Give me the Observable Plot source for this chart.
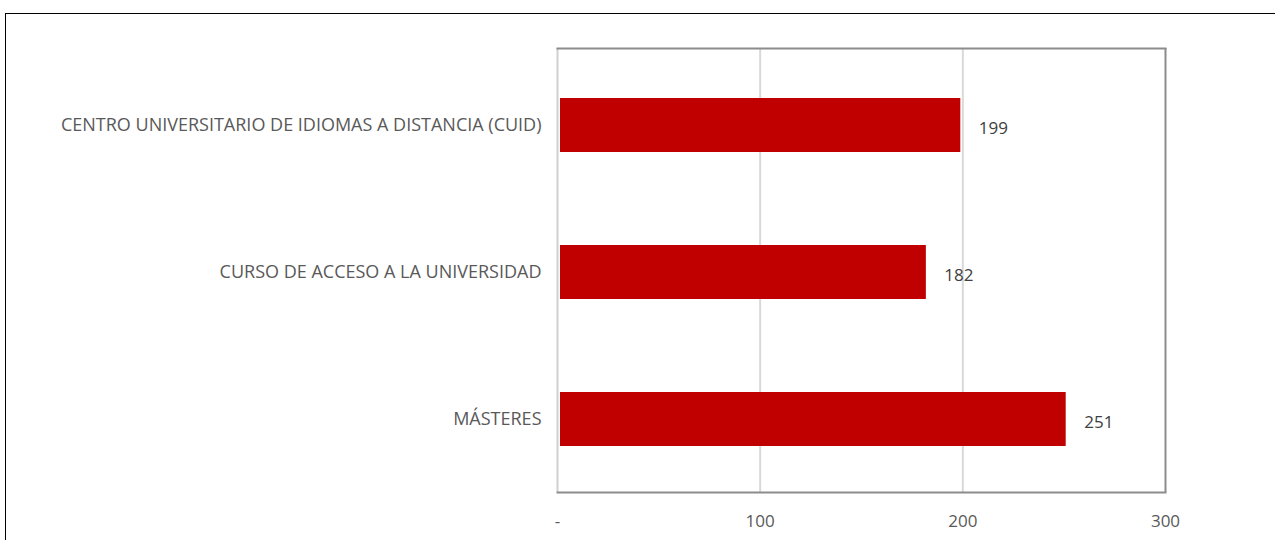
<!DOCTYPE html>
<html>
<head>
<meta charset="utf-8">
<script src="https://cdn.jsdelivr.net/npm/d3@7"></script>
<script src="https://cdn.jsdelivr.net/npm/@observablehq/plot@0.6"></script>
<style>
  html, body { margin: 0; padding: 0; background: #fff; overflow: hidden; }
  #wrap { position: relative; width: 1275px; height: 540px; }
  #border { position: absolute; left: 5px; top: 13px; width: 1400px; height: 700px; border: 1px solid #000; pointer-events: none; }
</style>
</head>
<body>
<div id="wrap"><div id="border"></div></div>
<script>
const categories = [
  "CENTRO UNIVERSITARIO DE IDIOMAS A DISTANCIA (CUID)",
  "CURSO DE ACCESO A LA UNIVERSIDAD",
  "MÁSTERES"
];
const values = [199, 182, 251];
const xTicks = [0, 100, 200, 300];
const xTickLabels = ["-", "100", "200", "300"];

const data = categories.map((c, i) => ({category: c, value: values[i]}));
const font = "Open Sans, Noto Sans, sans-serif";

const chart = Plot.plot({
  width: 1275,
  height: 540,
  marginLeft: 557,
  marginRight: 110,
  marginTop: 48,
  marginBottom: 48,
  style: {fontFamily: font, background: "transparent", overflow: "visible"},
  x: {domain: [0, 300], ticks: xTicks, label: null},
  y: {domain: categories, label: null, range: [51, 493], paddingInner: 0.635, paddingOuter: 0.3175},
  marks: [
    Plot.gridX(xTicks.filter(d => d > 0 && d < 300), {stroke: "#d9d9d9", strokeOpacity: 1, strokeWidth: 2}),
    Plot.barX(data, {y: "category", x: "value", fill: "#c00000", insetLeft: 3}),
    Plot.text(data, {y: "category", x: "value", text: d => String(d.value), dx: 18, dy: 3, textAnchor: "start", fill: "#404040", fontSize: 17}),
    Plot.ruleX([0], {stroke: "#d0d0d0", strokeWidth: 2}),
    Plot.ruleX([300], {stroke: "#8c8c8c", strokeWidth: 2}),
    Plot.frame({anchor: "top", stroke: "#8c8c8c", strokeWidth: 2}),
    Plot.frame({anchor: "bottom", stroke: "#8c8c8c", strokeWidth: 2}),
    Plot.axisX({ticks: xTicks, tickFormat: d => xTickLabels[xTicks.indexOf(d)], tickSize: 0, tickPadding: 22, fontSize: 17, color: "#595959", label: null}),
    Plot.axisY({tickSize: 0, tickPadding: 16, fontSize: 18, color: "#595959", label: null})
  ]
});
document.getElementById("wrap").prepend(chart);
</script>
</body>
</html>
